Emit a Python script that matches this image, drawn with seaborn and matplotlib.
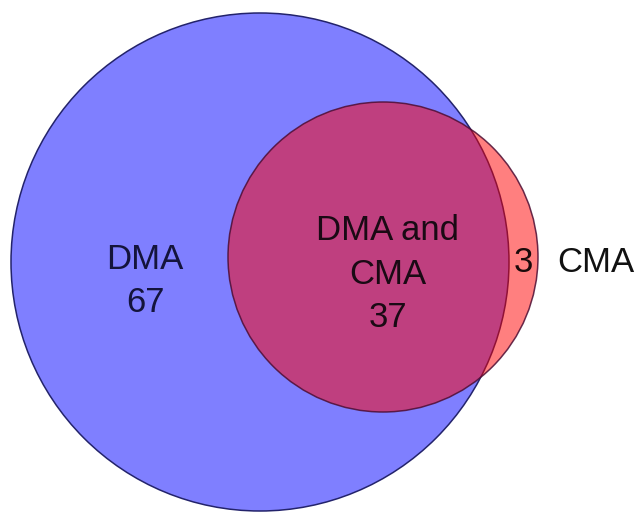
import matplotlib
matplotlib.use("Agg")
import matplotlib.pyplot as plt
from matplotlib.patches import Circle
import seaborn as sns

# Set style
sns.set_theme(style="white")
plt.rcParams['font.family'] = ['Liberation Sans', 'DejaVu Sans']

# Data
set_names = ["DMA", "CMA"]
only_dma = 67
both = 37
only_cma = 3

# Layout (pixel coords, y down)
dma_center = (260, 262)
dma_radius = 249
cma_center = (383, 257)
cma_radius = 155


def generate_venn():
    fig = plt.figure(figsize=(6.37, 5.13), dpi=100)
    ax = fig.add_axes([0, 0, 1, 1])
    ax.set_xlim(0, 637)
    ax.set_ylim(513, 0)
    ax.set_aspect('equal')
    ax.axis('off')

    ax.add_patch(Circle(dma_center, dma_radius, facecolor=(0, 0, 1, 0.5),
                        edgecolor='#23236b', linewidth=1.1, zorder=1))
    ax.add_patch(Circle(cma_center, cma_radius, facecolor=(1, 0, 0, 0.5),
                        edgecolor=(0.3, 0.05, 0.2, 0.85), linewidth=1.1, zorder=2))

    txt = dict(fontsize=25, ha='center', va='center', linespacing=1.4, zorder=3)
    ax.text(145, 281, f"{set_names[0]}\n{only_dma}", color='#14143c', **txt)
    ax.text(388, 274, f"{set_names[0]} and\n{set_names[1]}\n{both}", color='#1a0a14', **txt)
    ax.text(523, 262, f"{only_cma}", color='#1a0a0a', **txt)
    ax.text(596, 262, set_names[1], color='#111111', **txt)

    fig.savefig('out.png', dpi=100, facecolor='white')
    plt.close(fig)


if __name__ == "__main__":
    generate_venn()
